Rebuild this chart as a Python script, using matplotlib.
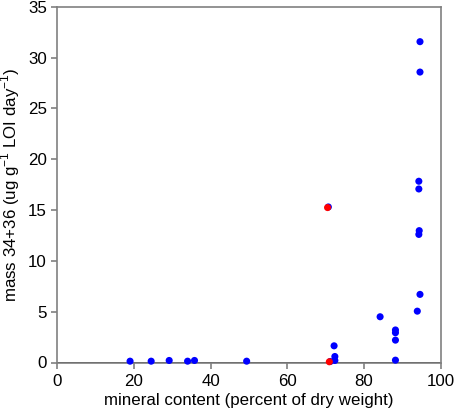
import matplotlib
matplotlib.use("Agg")
import matplotlib.pyplot as plt

plt.rcParams['font.family'] = ['Liberation Sans', 'DejaVu Sans']

# Blue series
blue_x = [19.0, 24.5, 29.2, 34.0, 35.8, 49.4,
          72.2, 72.4, 72.4, 84.2, 88.2, 88.2, 88.2, 88.2,
          93.9, 94.6, 94.4, 94.3, 94.3, 94.3, 94.6, 94.6, 70.7, 71.2]
blue_y = [0.13, 0.13, 0.2, 0.13, 0.2, 0.13,
          1.64, 0.59, 0.2, 4.5, 3.2, 2.93, 2.2, 0.23,
          5.05, 6.7, 12.97, 12.6, 17.07, 17.83, 31.56, 28.57, 15.3, 0.1]
# Red series
red_x = [70.5, 70.96]
red_y = [15.24, 0.07]

x_ticks = [0, 20, 40, 60, 80, 100]
y_ticks = [0, 5, 10, 15, 20, 25, 30, 35]

fig = plt.figure(figsize=(4.55, 4.12), dpi=100)
ax = fig.add_axes([57.2/455, 1 - 362.5/412, (440.7-57.2)/455, (362.5-6.7)/412])

ax.scatter(blue_x, blue_y, s=26, color='#0000ff', edgecolors='none', zorder=3, clip_on=False)
ax.scatter(red_x, red_y, s=26, color='#ff0000', edgecolors='none', zorder=4, clip_on=False)

ax.axhline(0, color='black', lw=1.2, zorder=2)

ax.set_xlim(0, 100)
ax.set_ylim(0, 35)
ax.set_xticks(x_ticks)
ax.set_yticks(y_ticks)
for sp in ax.spines.values():
    sp.set_color('#808080')
    sp.set_linewidth(1.2)
ax.tick_params(axis='both', colors='#808080', labelcolor='black', labelsize=12.2, length=4, width=1.2, direction='out')
ax.tick_params(axis='x', pad=4.5)

ax.set_xlabel('mineral content (percent of dry weight)', fontsize=12.2, labelpad=3)
ax.set_ylabel('mass 34+36 (ug g$^{-1}$ LOI day$^{-1}$)', fontsize=12.2, labelpad=4)
ax.yaxis.label.set_size(12.2)
from matplotlib.font_manager import FontProperties
ax.set_ylabel('mass 34+36 (ug g$^{\\mathregular{-1}}$ LOI day$^{\\mathregular{-1}}$)', fontsize=12.2, labelpad=4)

fig.savefig('out.png', dpi=100)
